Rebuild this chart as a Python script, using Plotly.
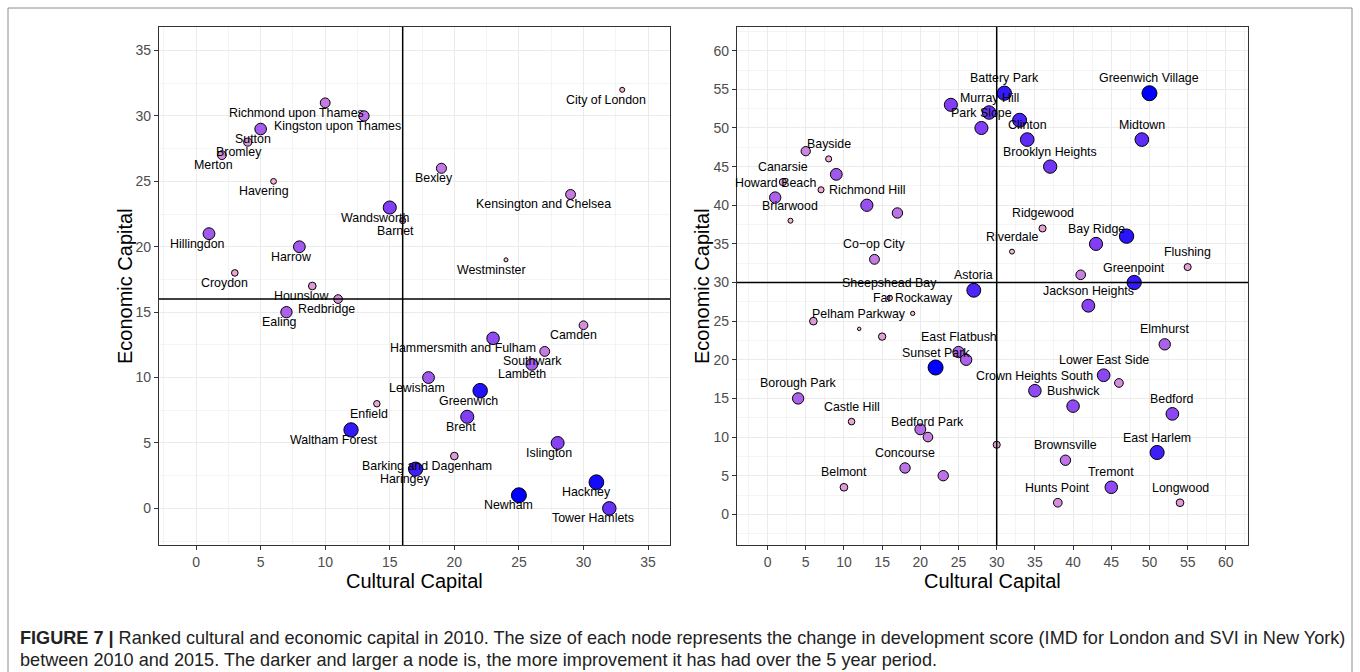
import plotly.graph_objects as go
import numpy as np

W, H = 1360, 672

# ---------------- London data ----------------
lon_names = [
    "Richmond upon Thames", "Kingston upon Thames", "Sutton", "Bromley", "Merton",
    "Havering", "Wandsworth", "Barnet", "Hillingdon", "Harrow", "Croydon",
    "Hounslow", "Redbridge", "Ealing", "City of London", "Bexley",
    "Kensington and Chelsea", "Westminster", "Camden", "Hammersmith and Fulham",
    "Southwark", "Lambeth", "Lewisham", "Greenwich", "Brent", "Enfield",
    "Waltham Forest", "Islington", "Barking and Dagenham", "Haringey", "Newham",
    "Hackney", "Tower Hamlets",
]
lon_cultural = [10, 13, 5, 4, 2, 6, 15, 16, 1, 8, 3, 9, 11, 7, 33, 19, 29, 24, 30, 23,
                27, 26, 18, 22, 21, 14, 12, 28, 20, 17, 25, 31, 32]
lon_economic = [31, 30, 29, 28, 27, 25, 23, 22, 21, 20, 18, 17, 16, 15, 32, 26, 24, 19, 14, 13,
                12, 11, 10, 9, 7, 8, 6, 5, 4, 3, 1, 2, 0]
lon_change = [0.40, 0.45, 0.58, 0.25, 0.30, 0.10, 0.75, 0.12, 0.60, 0.60, 0.15,
              0.22, 0.30, 0.55, 0.06, 0.42, 0.40, 0.02, 0.30, 0.68, 0.40, 0.58,
              0.60, 0.93, 0.75, 0.14, 0.90, 0.73, 0.22, 0.88, 1.00, 0.96, 0.80]

# ---------------- New York data ----------------
nyc_names = [
    "Battery Park", "Greenwich Village", "Murray Hill", "Park Slope", "", "",
    "Clinton", "Midtown", "Brooklyn Heights", "", "Bayside", "", "Canarsie", "",
    "Howard Beach", "Richmond Hill", "", "Briarwood", "Ridgewood", "", "Bay Ridge",
    "Riverdale", "Co\u2212op City", "Flushing", "", "Greenpoint", "Astoria",
    "Sheepshead Bay", "Jackson Heights", "Far Rockaway", "", "Pelham Parkway", "",
    "Elmhurst", "East Flatbush", "", "Sunset Park", "Lower East Side", "",
    "Crown Heights South", "Borough Park", "Bushwick", "Bedford", "Castle Hill", "",
    "Bedford Park", "", "East Harlem", "Brownsville", "Concourse", "", "Belmont",
    "Tremont", "Hunts Point", "Longwood",
]
nyc_cultural = [31, 50, 29, 28, 24, 33, 34, 49, 37, 5, 8, 9, 2, 7, 1, 13, 17, 3, 36, 47, 43,
                32, 14, 55, 41, 48, 27, 16, 42, 19, 6, 12, 15, 52, 25, 26, 22, 44, 46, 35,
                4, 40, 53, 11, 20, 21, 30, 51, 39, 18, 23, 10, 45, 38, 54]
nyc_economic = [54.5, 54.5, 52, 50, 53, 51, 48.5, 48.5, 45, 47, 46, 44, 43, 42, 41, 40, 39,
                38, 37, 36, 35, 34, 33, 32, 31, 30, 29, 28, 27, 26, 25, 24, 23, 22, 21, 20,
                19, 18, 17, 16, 15, 14, 13, 12, 11, 10, 9, 8, 7, 6, 5, 3.5, 3.5, 1.5, 1.5]
nyc_change = [0.90, 1.00, 0.80, 0.75, 0.75, 0.86, 0.82, 0.82, 0.78, 0.35, 0.12, 0.60,
              0.18, 0.12, 0.55, 0.65, 0.45, 0.06, 0.18, 0.92, 0.75, 0.06, 0.40, 0.18,
              0.38, 0.90, 0.85, 0.08, 0.72, 0.03, 0.22, 0.00, 0.20, 0.55, 0.55, 0.55,
              1.00, 0.70, 0.30, 0.68, 0.55, 0.68, 0.70, 0.15, 0.50, 0.38, 0.18, 0.88,
              0.45, 0.45, 0.45, 0.22, 0.68, 0.30, 0.22]

lon_ticks = [0, 5, 10, 15, 20, 25, 30, 35]
nyc_ticks = [0, 5, 10, 15, 20, 25, 30, 35, 40, 45, 50, 55, 60]
lon_split = 16
nyc_split = 30

# ---------------- styling ----------------
# label offsets (pixels) relative to the node, as placed by the repel layout
lon_label_dx = [-29, -26, -8, -9, -8, -10, -14, -7, -11, -8, -10, -11, -12, -7, -16, -7,
                -27, -14, -10, -30, -12, -10, -11.5, -12, -6, -8, -17, -9, -27, -10.6,
                -10, -9.6, -16.6]
lon_label_dy = -10
nyc_label_dy = 15

colorscale = [[0, "#FFC0CB"], [0.25, "#DD95DA"], [0.5, "#B56AE8"],
              [0.75, "#813EF4"], [1, "#0000FF"]]
FONT = "Liberation Sans, Arial, Helvetica, sans-serif"


def sizes(v):
    v = np.asarray(v, dtype=float)
    return np.sqrt(12 + 213 * v)


fig = go.Figure()
fig.add_trace(go.Scatter(
    x=lon_cultural, y=lon_economic, mode="markers", xaxis="x", yaxis="y",
    marker=dict(size=sizes(lon_change), color=lon_change, colorscale=colorscale,
                cmin=0, cmax=1, line=dict(color="black", width=1), opacity=1),
    text=lon_names, hoverinfo="text", showlegend=False, cliponaxis=False))
fig.add_trace(go.Scatter(
    x=nyc_cultural, y=nyc_economic, mode="markers", xaxis="x2", yaxis="y2",
    marker=dict(size=sizes(nyc_change), color=nyc_change, colorscale=colorscale,
                cmin=0, cmax=1, line=dict(color="black", width=1), opacity=1),
    text=nyc_names, hoverinfo="text", showlegend=False, cliponaxis=False))

annotations = []
for n, x, y, dx in zip(lon_names, lon_cultural, lon_economic, lon_label_dx):
    annotations.append(dict(x=x, y=y, xref="x", yref="y", text=n, showarrow=False,
                            xshift=dx, yshift=lon_label_dy, xanchor="center",
                            yanchor="middle", font=dict(family=FONT, size=12.4, color="black")))
for n, x, y in zip(nyc_names, nyc_cultural, nyc_economic):
    if not n:
        continue
    annotations.append(dict(x=x, y=y, xref="x2", yref="y2", text=n, showarrow=False,
                            yshift=nyc_label_dy, xanchor="center", yanchor="middle",
                            font=dict(family=FONT, size=12.4, color="black")))

# axis titles
left_dom = [159 / W, 670 / W]
right_dom = [737 / W, 1248 / W]
ydom = [1 - 545 / H, 1 - 27 / H]
title_font = dict(family=FONT, size=20, color="black")
for dom, ytx in ((left_dom, 125 / W), (right_dom, 702 / W)):
    annotations.append(dict(x=(dom[0] + dom[1]) / 2, y=1 - 581 / H, xref="paper", yref="paper",
                            text="Cultural Capital", showarrow=False, font=title_font,
                            xanchor="center", yanchor="middle", borderpad=0))
    annotations.append(dict(x=ytx, y=(ydom[0] + ydom[1]) / 2, xref="paper", yref="paper",
                            text="Economic Capital", showarrow=False, font=title_font,
                            textangle=-90, xanchor="center", yanchor="middle"))

cap_font = dict(family=FONT, size=18.1, color="#222222")
annotations.append(dict(
    x=18 / W, y=1 - 638 / H, xref="paper", yref="paper", xanchor="left", yanchor="middle",
    showarrow=False, font=cap_font,
    text="<b>FIGURE 7 |</b> Ranked cultural and economic capital in 2010. The size of each node "
         "represents the change in development score (IMD for London and SVI in New York)"))
annotations.append(dict(
    x=18 / W, y=1 - 660 / H, xref="paper", yref="paper", xanchor="left", yanchor="middle",
    showarrow=False, font=cap_font,
    text="between 2010 and 2015. The darker and larger a node is, the more improvement it "
         "has had over the 5 year period."))

axis_common = dict(
    showgrid=True, gridcolor="#EBEBEB", gridwidth=1, zeroline=False,
    showline=True, linecolor="#333333", linewidth=1.2, mirror=True,
    ticks="outside", ticklen=4, tickcolor="#333333", tickwidth=1,
    tickfont=dict(family=FONT, size=14, color="#4D4D4D"),
    minor=dict(showgrid=True, gridcolor="#F4F4F4", gridwidth=0.6, dtick=2.5, ticks=""),
)

shapes = []
for xr, yr, s in (("x", "y", lon_split), ("x2", "y2", nyc_split)):
    shapes.append(dict(type="line", xref=xr, yref=yr + " domain", x0=s, x1=s, y0=0, y1=1,
                       line=dict(color="black", width=1.5), layer="above"))
    shapes.append(dict(type="line", xref=xr + " domain", yref=yr, x0=0, x1=1, y0=s, y1=s,
                       line=dict(color="black", width=1.5), layer="above"))
# outer frame of the figure
shapes.append(dict(type="rect", xref="paper", yref="paper", x0=8 / W, x1=1352 / W,
                   y0=-0.05, y1=1 - 8 / H, line=dict(color="#8C8C8C", width=1),
                   fillcolor="rgba(0,0,0,0)", layer="below"))

fig.update_layout(
    width=W, height=H, margin=dict(l=0, r=0, t=0, b=0),
    paper_bgcolor="white", plot_bgcolor="white",
    xaxis=dict(domain=left_dom, range=[-2.87, 36.7], tickvals=lon_ticks, anchor="y", **axis_common),
    yaxis=dict(domain=ydom, range=[-2.8, 36.8], tickvals=lon_ticks, anchor="x", **axis_common),
    xaxis2=dict(domain=right_dom, range=[-4.0, 62.9], tickvals=nyc_ticks, anchor="y2", **axis_common),
    yaxis2=dict(domain=ydom, range=[-3.97, 63.07], tickvals=nyc_ticks, anchor="x2", **axis_common),
    annotations=annotations, shapes=shapes, font=dict(family=FONT),
)

fig.write_html("out.html", config={"displayModeBar": False},
               post_script="document.body.style.margin='0';document.body.style.overflow='hidden';")
